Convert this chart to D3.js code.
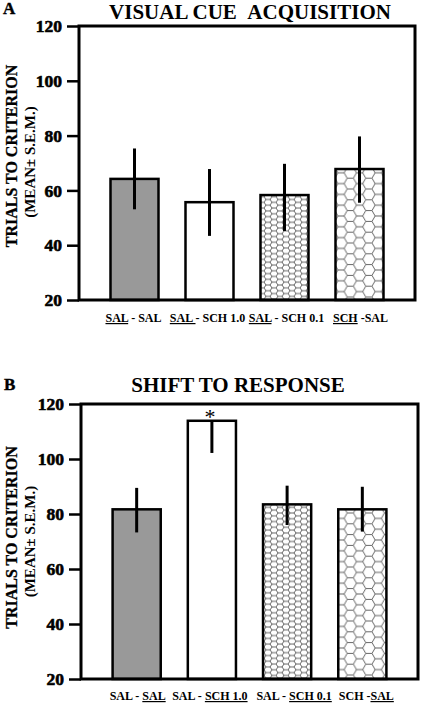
<!DOCTYPE html>
<html>
<head>
<meta charset="utf-8">
<script src="https://cdn.jsdelivr.net/npm/d3@7"></script>
<style>
  html, body { margin: 0; padding: 0; background: #fff; }
  svg { display: block; }
  text { font-family: "Liberation Serif", "Times New Roman", serif; font-weight: bold; fill: #000; }
</style>
</head>
<body>
<svg id="chart" width="422" height="703"></svg>
<script>
// ---------- data ----------
const categoriesA = ["SAL - SAL", "SAL - SCH 1.0", "SAL - SCH 0.1", "SCH -SAL"];
const underlineA = [[0, 3], [0, 4], [0, 3], [0, 3]];
const meansA = [64.2, 55.7, 58.3, 67.8];
const errLowA = [53.1, 43.4, 45.2, 55.5];
const errHighA = [75.3, 67.8, 69.7, 79.7];

const categoriesB = ["SAL - SAL", "SAL - SCH 1.0", "SAL - SCH 0.1", "SCH -SAL"];
const underlineB = [[6, 9], [6, 13], [6, 13], [5, 8]];
const meansB = [81.7, 113.9, 83.5, 81.7];
const errLowB = [73.3, 102.2, 76.0, 73.6];
const errHighB = [89.5, 113.9, 90.3, 89.9];
const significantB = [false, true, false, false];

const yTicks = [20, 40, 60, 80, 100, 120];
const yDomain = [20, 120];
const titleA = "VISUAL CUE\u00a0\u00a0ACQUISITION";
const titleB = "SHIFT TO RESPONSE";
const yLabel1 = "TRIALS TO CRITERION";
const yLabel2 = "(MEAN\u00b1 S.E.M.)";

// ---------- drawing ----------
const svg = d3.select("#chart");
const defs = svg.append("defs");

function hexPattern(id, r, h, stroke, sw) {
  const p = defs.append("pattern")
    .attr("id", id).attr("patternUnits", "userSpaceOnUse")
    .attr("width", 3 * r).attr("height", h);
  p.append("rect").attr("width", 3 * r).attr("height", h).attr("fill", "#fff");
  p.append("path")
    .attr("d", `M${0.5*r},0 H${1.5*r} L${2*r},${h/2} L${1.5*r},${h} H${0.5*r} L0,${h/2} Z M${2*r},${h/2} H${3*r}`)
    .attr("fill", "none").attr("stroke", stroke).attr("stroke-width", sw);
}
hexPattern("hexSmall", 4, 5.7, "#555", 0.9);
hexPattern("hexLarge", 6.2, 10.8, "#555", 0.9);

const fills = ["#999999", "#ffffff", "url(#hexSmall)", "url(#hexLarge)"];
const serif = "'Liberation Serif', 'Times New Roman', serif";

function panel(cfg) {
  const g = svg.append("g");
  const x = d3.scaleBand().domain(cfg.cats).range([cfg.left, cfg.right])
    .paddingInner(0.36).paddingOuter(0.42);
  const y = d3.scaleLinear().domain(yDomain).range([cfg.bottom, cfg.top]);
  const cx = i => x(cfg.cats[i]) + x.bandwidth() / 2;

  // panel letter
  g.append("text").attr("x", cfg.letterX).attr("y", cfg.letterY)
    .style("font-size", "17px").style("stroke", "#000").style("stroke-width", "0.4px").text(cfg.letter);
  // title
  g.append("text").attr("x", cfg.titleX).attr("y", cfg.titleY)
    .attr("text-anchor", "middle").style("font-size", cfg.titleSize + "px").text(cfg.title);

  // bars
  g.selectAll("rect.bar").data(cfg.means).join("rect")
    .attr("class", "bar")
    .attr("x", (d, i) => x(cfg.cats[i]))
    .attr("width", x.bandwidth())
    .attr("y", d => y(d))
    .attr("height", d => y(yDomain[0]) - y(d))
    .attr("fill", (d, i) => fills[i])
    .attr("stroke", "#000").attr("stroke-width", 2.5);

  // error bars
  g.selectAll("line.err").data(cfg.means).join("line")
    .attr("class", "err")
    .attr("x1", (d, i) => cx(i))
    .attr("x2", (d, i) => cx(i))
    .attr("y1", (d, i) => y(cfg.lo[i]))
    .attr("y2", (d, i) => y(cfg.hi[i]))
    .attr("stroke", "#000").attr("stroke-width", 3);

  // significance
  if (cfg.sig) {
    const sigData = cfg.means.map((m, i) => ({ m, i })).filter(d => cfg.sig[d.i]);
    g.selectAll("text.sig").data(sigData).join("text")
      .attr("class", "sig")
      .attr("x", d => cx(d.i) - 2)
      .attr("y", d => y(d.m) + 3)
      .attr("text-anchor", "middle")
      .style("font-size", "22px").style("font-weight", "normal")
      .text("*");
  }

  // frame
  g.append("rect")
    .attr("x", cfg.left).attr("y", cfg.top)
    .attr("width", cfg.right - cfg.left).attr("height", cfg.bottom - cfg.top)
    .attr("fill", "none").attr("stroke", "#000").attr("stroke-width", 3);

  // y axis
  const ax = g.append("g").attr("transform", `translate(${cfg.left},0)`)
    .call(d3.axisLeft(y).tickValues(yTicks).tickSize(12).tickPadding(5).tickFormat(d3.format("d")));
  ax.attr("font-family", null).attr("font-size", null);
  ax.select(".domain").remove();
  ax.selectAll(".tick line").attr("stroke", "#000").attr("stroke-width", 2.5);
  ax.selectAll(".tick text")
    .style("font-family", serif)
    .style("font-weight", "bold").style("font-size", "17.5px").style("fill", "#000")
    .style("stroke", "#000").style("stroke-width", "0.6px");

  // y label
  const cy = (cfg.top + cfg.bottom) / 2;
  g.append("text")
    .attr("transform", `translate(${cfg.label1X},${cy + cfg.label1Shift}) rotate(-90)`)
    .attr("text-anchor", "middle").style("font-size", "16px")
    .style("stroke", "#000").style("stroke-width", "0.3px").text(yLabel1);
  g.append("text")
    .attr("transform", `translate(${cfg.label2X},${cy + cfg.label2Shift}) rotate(-90)`)
    .attr("text-anchor", "middle").style("font-size", "15px").text(yLabel2);

  // x labels with underlined parts
  cfg.cats.forEach((c, i) => {
    const t = g.append("text")
      .attr("x", cx(i) + cfg.xLabelShift[i])
      .attr("y", cfg.xLabelY)
      .attr("text-anchor", "middle").style("font-size", "12px")
      .style("white-space", "pre");
    const [s, e] = cfg.ul[i];
    if (s > 0) t.append("tspan").text(c.slice(0, s));
    t.append("tspan").style("text-decoration", "underline").text(c.slice(s, e));
    if (e < c.length) t.append("tspan").text(c.slice(e));
  });
}

panel({
  cats: categoriesA, means: meansA, lo: errLowA, hi: errHighA, ul: underlineA,
  left: 79, right: 415, top: 26, bottom: 300,
  letter: "A", letterX: 3, letterY: 14,
  title: titleA, titleX: 250, titleY: 19, titleSize: 21,
  label1X: 17, label2X: 35, label1Shift: -7, label2Shift: -1,
  xLabelY: 322, xLabelShift: [-1, -2, 2, 1]
});

panel({
  cats: categoriesB, means: meansB, lo: errLowB, hi: errHighB, ul: underlineB, sig: significantB,
  left: 81, right: 418, top: 404, bottom: 679,
  letter: "B", letterX: 4, letterY: 390,
  title: titleB, titleX: 238, titleY: 392, titleSize: 21,
  label1X: 17, label2X: 35, label1Shift: -4, label2Shift: 0,
  xLabelY: 700, xLabelShift: [1, -2, 7, 4]
});
</script>
</body>
</html>
